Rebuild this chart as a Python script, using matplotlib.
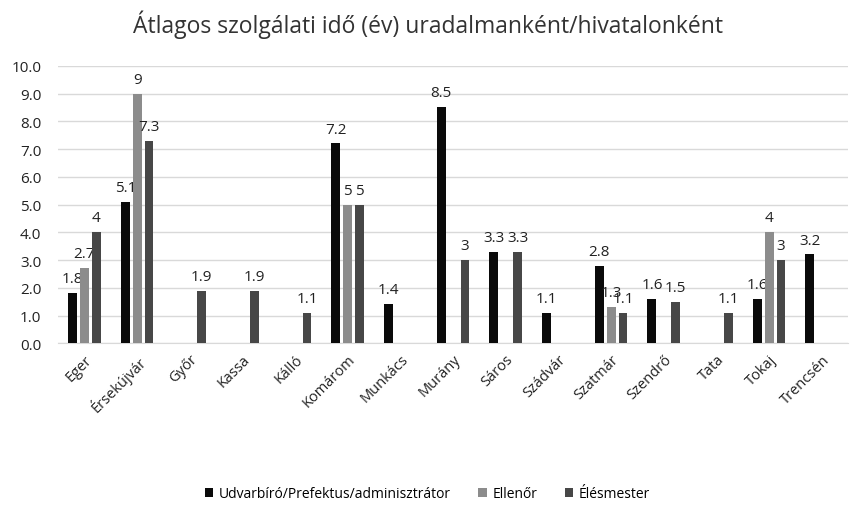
import numpy as np
import matplotlib
matplotlib.use("Agg")
import matplotlib.pyplot as plt

plt.rcParams['font.family'] = ['Open Sans', 'DejaVu Sans']

places = ["Eger", "Érsekújvár", "Győr", "Kassa", "Kálló", "Komárom", "Munkács",
          "Murány", "Sáros", "Szádvár", "Szatmár", "Szendrő", "Tata", "Tokaj", "Trencsén"]
udvarbiro = [1.8, 5.1, None, None, None, 7.2, 1.4, 8.5, 3.3, 1.1, 2.8, 1.6, None, 1.6, 3.2]
ellenor = [2.7, 9, None, None, None, 5, None, None, None, None, 1.3, None, None, 4, None]
elesmester = [4, 7.3, 1.9, 1.9, 1.1, 5, None, 3, 3.3, None, 1.1, 1.5, 1.1, 3, None]

series = [
    ("Udvarbíró/Prefektus/adminisztrátor", udvarbiro, "#0a0a0a"),
    ("Ellenőr", ellenor, "#8c8c8c"),
    ("Élésmester", elesmester, "#474747"),
]

fig = plt.figure(figsize=(8.55, 5.1), dpi=100)
ax = fig.add_axes([0.068, 0.325, 0.924, 0.544])

x = np.arange(len(places))
step = 0.225
w = 0.17
for i, (name, vals, col) in enumerate(series):
    xs = [xi + (i - 1) * step for xi, v in zip(x, vals) if v is not None]
    ys = [v for v in vals if v is not None]
    ax.bar(xs, ys, width=w, color=col, label=name, zorder=3)
    for xx, yy in zip(xs, ys):
        ax.text(xx, yy + 0.25, f"{yy:g}", ha="center", va="bottom", fontsize=11, color="#222222")

ax.set_xlim(-0.5, len(places) - 0.5)
ax.set_ylim(0, 10)
ax.set_yticks(np.arange(0, 10.1, 1))
ax.set_yticklabels([f"{v:.1f}" for v in np.arange(0, 10.1, 1)], fontsize=11, color="#222222")
ax.set_xticks(x)
ax.set_xticklabels(places, rotation=45, ha="right", rotation_mode="anchor", fontsize=10.5, color="#222222")
ax.tick_params(axis="y", length=0, pad=12)
ax.tick_params(axis="x", length=0, pad=6)
ax.grid(axis="y", color="#d9d9d9", linewidth=1, zorder=0)
for s in ["top", "right", "left"]:
    ax.spines[s].set_visible(False)
ax.spines["bottom"].set_color("#d9d9d9")

fig.suptitle("Átlagos szolgálati idő (év) uradalmanként/hivatalonként", y=0.98, fontsize=16.5, color="#333333")
fig.legend(loc="center", bbox_to_anchor=(0.5, 0.03), ncol=3, frameon=False, fontsize=10,
           handlelength=0.6, handleheight=0.6, columnspacing=2.0, handletextpad=0.4)

fig.savefig("out.png", dpi=100)
